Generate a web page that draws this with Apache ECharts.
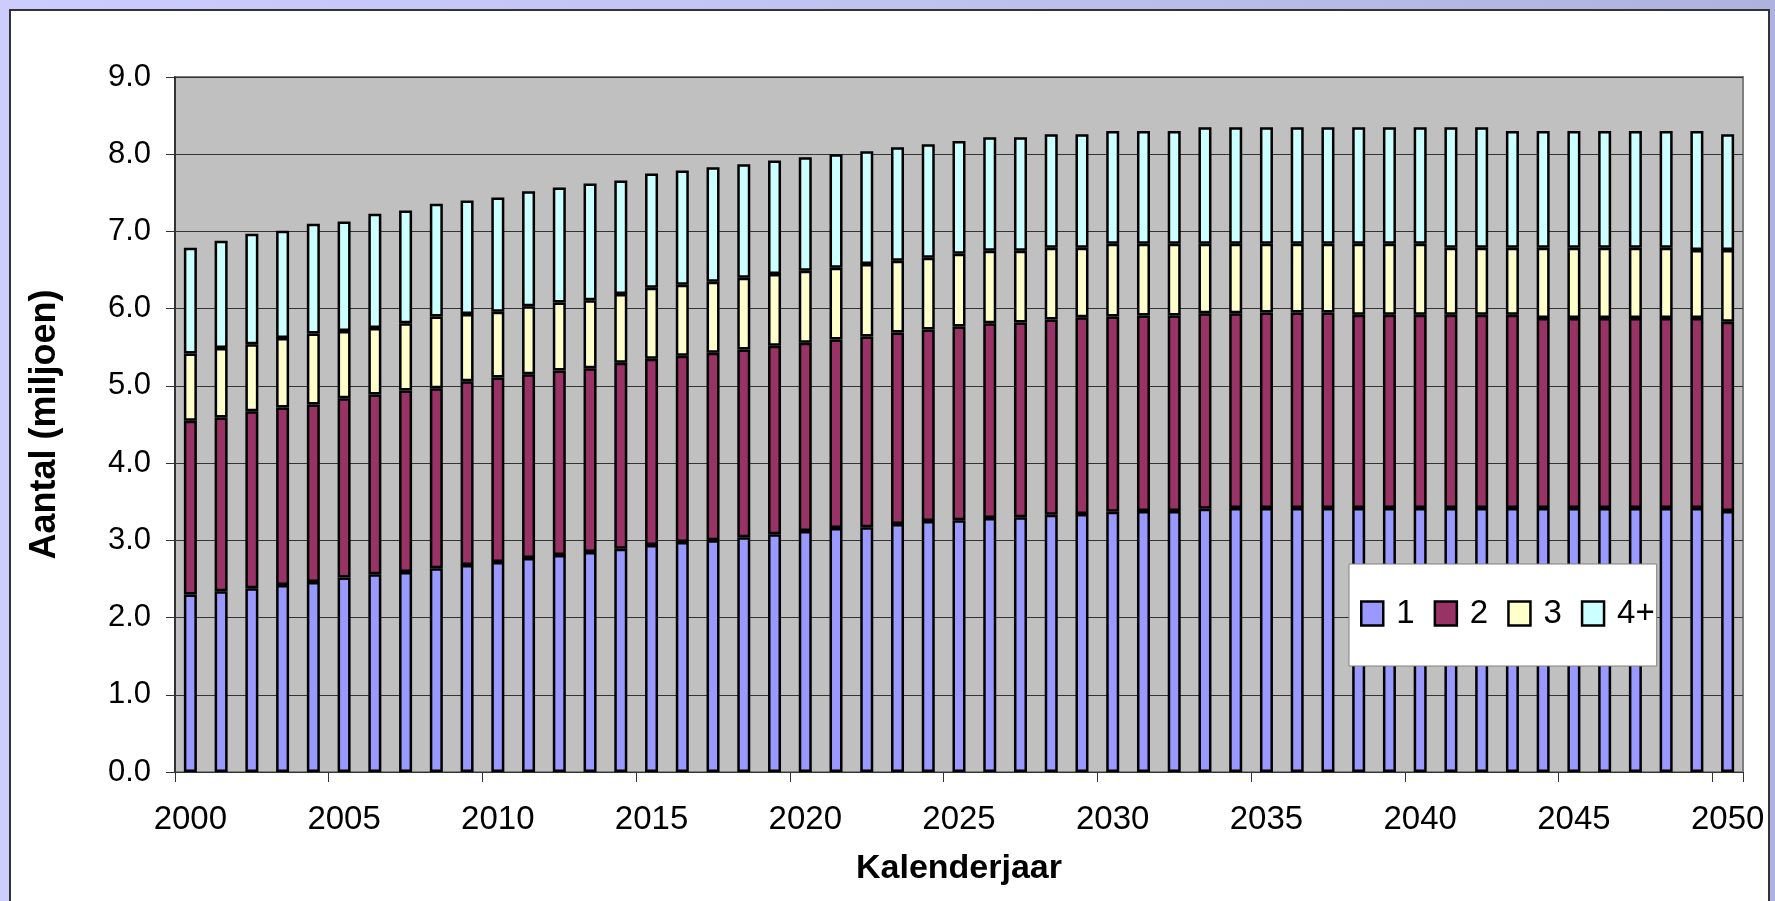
<!DOCTYPE html>
<html>
<head>
<meta charset="utf-8">
<script src="https://cdn.jsdelivr.net/npm/echarts@6/dist/echarts.min.js"></script>
<style>
  html, body { margin: 0; padding: 0; width: 1775px; height: 901px; overflow: hidden; }
  body { background: linear-gradient(to right, #ccccff 0%, #c0c2f0 50%, #aeb2de 100%); position: relative; }
  #panel { position: absolute; left: 9px; top: 9px; width: 1757px; height: 1000px; background: #fff; border: 2px solid #333; }
  #chart { position: absolute; left: 0; top: 0; width: 1775px; height: 901px; }
</style>
</head>
<body>
<div id="panel"></div>
<div id="chart"></div>
<script>
const years = [];
for (let y = 2000; y <= 2050; y++) years.push(String(y));

const seriesNames = ['1', '2', '3', '4+'];
const colors = ['#9999ff', '#993366', '#ffffcc', '#ccffff'];

// households (millions) by size
const hh1 = [2.30,2.34,2.38,2.42,2.46,2.52,2.56,2.59,2.64,2.68,
             2.72,2.77,2.81,2.85,2.89,2.94,2.98,3.00,3.04,3.08,
             3.12,3.16,3.17,3.21,3.25,3.26,3.29,3.30,3.33,3.34,
             3.37,3.38,3.38,3.41,3.42,3.42,3.42,3.42,3.42,3.42,
             3.42,3.42,3.42,3.42,3.42,3.42,3.42,3.42,3.42,3.42,
             3.38];
const hh2 = [2.25,2.25,2.29,2.30,2.30,2.32,2.33,2.35,2.33,2.38,
             2.39,2.38,2.39,2.38,2.41,2.41,2.41,2.43,2.43,2.44,
             2.44,2.44,2.47,2.48,2.48,2.51,2.52,2.52,2.53,2.55,
             2.53,2.53,2.53,2.53,2.52,2.53,2.53,2.53,2.50,2.50,
             2.50,2.50,2.50,2.50,2.46,2.46,2.46,2.46,2.46,2.46,
             2.45];
const hh3 = [0.87,0.90,0.87,0.90,0.92,0.87,0.86,0.87,0.93,0.87,
             0.85,0.88,0.88,0.88,0.89,0.92,0.92,0.92,0.93,0.93,
             0.93,0.93,0.94,0.93,0.93,0.94,0.94,0.93,0.93,0.90,
             0.94,0.93,0.93,0.90,0.90,0.89,0.89,0.89,0.92,0.92,
             0.92,0.87,0.87,0.87,0.91,0.91,0.91,0.91,0.91,0.88,
             0.93];
const hh4 = [1.37,1.39,1.43,1.39,1.42,1.42,1.48,1.46,1.46,1.47,
             1.48,1.49,1.49,1.51,1.47,1.48,1.48,1.48,1.47,1.47,
             1.47,1.47,1.46,1.47,1.47,1.46,1.47,1.47,1.47,1.47,
             1.46,1.46,1.46,1.51,1.51,1.51,1.51,1.51,1.51,1.51,
             1.51,1.56,1.56,1.51,1.51,1.51,1.51,1.51,1.51,1.54,
             1.50];
const dataSets = [hh1, hh2, hh3, hh4];

const yMin = 0, yMax = 9, yStep = 1;
const FONT = "'Liberation Sans', Arial, sans-serif";

const chart = echarts.init(document.getElementById('chart'), null, { renderer: 'canvas' });

chart.setOption({
  animation: false,
  backgroundColor: 'transparent',
  textStyle: { fontFamily: FONT, color: '#000' },
  grid: {
    left: 175, top: 77, right: 32, bottom: 129,
    show: true, backgroundColor: '#c0c0c0', borderColor: '#808080', borderWidth: 2
  },
  legend: {
    data: seriesNames,
    left: 1349, top: 564,
    orient: 'horizontal',
    itemWidth: 22, itemHeight: 24, itemGap: 19,
    padding: [33, 2, 36, 11],
    backgroundColor: '#ffffff',
    borderColor: '#808080', borderWidth: 1,
    icon: 'rect',
    itemStyle: { borderColor: '#000', borderWidth: 2.5 },
    textStyle: { fontSize: 33, fontFamily: FONT, color: '#000', padding: [0, 0, 0, 8] }
  },
  xAxis: {
    type: 'category',
    data: years,
    boundaryGap: true,
    name: 'Kalenderjaar',
    nameLocation: 'middle',
    nameGap: 80,
    nameTextStyle: { fontSize: 34, fontWeight: 'bold', fontFamily: FONT, color: '#000' },
    axisLine: { show: true, lineStyle: { color: '#333', width: 1 } },
    axisTick: { show: true, interval: 4, length: 10, lineStyle: { color: '#333', width: 1 } },
    axisLabel: { interval: 4, fontSize: 33, margin: 31, color: '#000', fontFamily: FONT },
    splitLine: { show: false }
  },
  yAxis: {
    type: 'value',
    min: yMin, max: yMax, interval: yStep,
    name: 'Aantal (miljoen)',
    nameLocation: 'middle',
    nameRotate: 90,
    nameGap: 112,
    nameTextStyle: { fontSize: 36, fontWeight: 'bold', fontFamily: FONT, color: '#000' },
    axisLine: { show: true, lineStyle: { color: '#333', width: 2 } },
    axisTick: { show: true, length: 9, lineStyle: { color: '#333', width: 1 } },
    axisLabel: { fontSize: 31, margin: 24, color: '#000', fontFamily: FONT,
                 formatter: v => v.toFixed(1) },
    splitLine: { show: true, lineStyle: { color: '#333', width: 1 } }
  },
  series: seriesNames.map((n, i) => ({
    name: n,
    type: 'bar',
    stack: 'total',
    barWidth: 13,
    data: dataSets[i],
    itemStyle: { color: colors[i], borderColor: '#000', borderWidth: 2.5 }
  }))
});
</script>
</body>
</html>
